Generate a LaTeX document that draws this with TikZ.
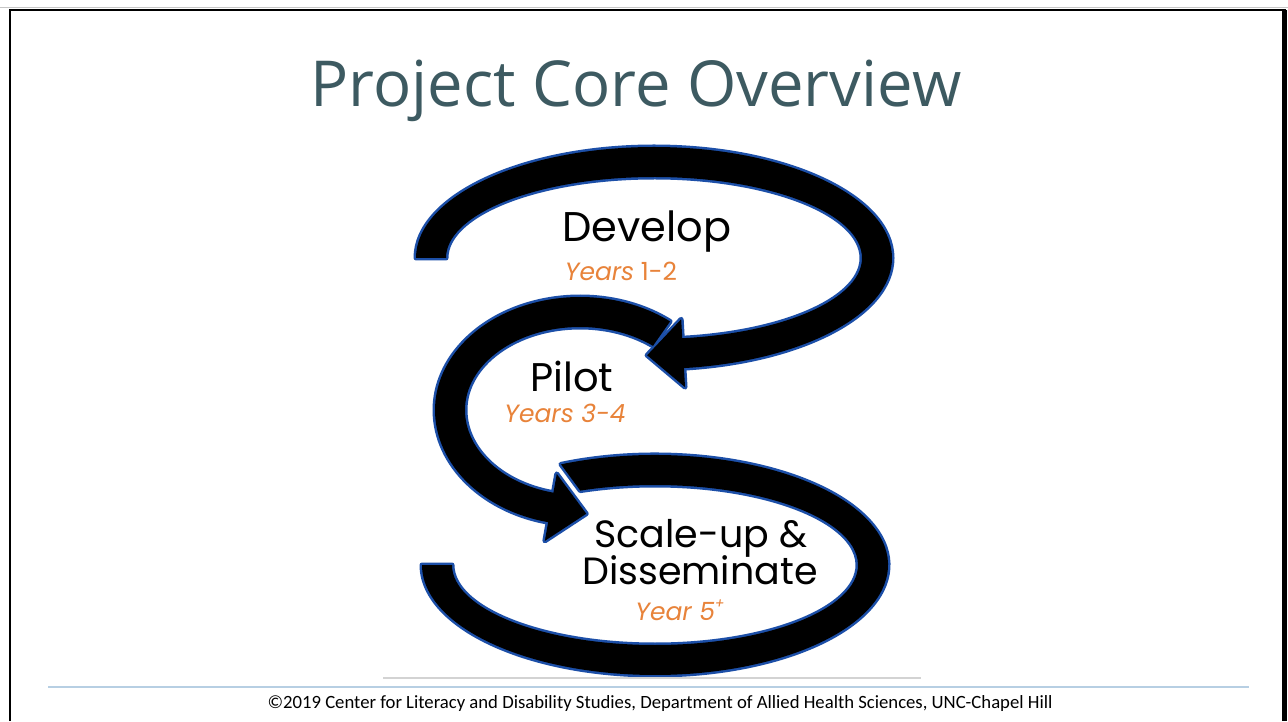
\documentclass[tikz,border=0pt]{standalone}
\usepackage{fontspec}
\setmainfont{Carlito}
\newfontfamily\titlefont{Open Sans}
\newfontfamily\labfont{Poppins}
\usetikzlibrary{calc}
\definecolor{titlecol}{HTML}{3D5A61}
\definecolor{yearcol}{HTML}{E8833A}
\definecolor{edgeblue}{HTML}{1C4FA8}
\definecolor{footline}{HTML}{B7CFE3}
\definecolor{rulegray}{HTML}{D3D3D3}

% outline pass and fill pass share the same geometry
\tikzset{
  bandedge/.style={draw=edgeblue, line width=5pt, line join=round},
  bandfill/.style={fill=black},
  stagelabel/.style={font=\labfont\fontsize{40}{44}\selectfont, anchor=base},
  yearlabel/.style={font=\labfont\fontsize{25}{28}\selectfont, text=yearcol, anchor=base},
}

% Develop loop (centre 654,463)
\newcommand\shDevBand[1]{%
  \path[#1] (654,463) ++(180:238 and 111)
    arc[start angle=180, end angle=-84.5, x radius=238, y radius=111]
    -- ($(654,463)+(-84.5:208 and 81)$)
    arc[start angle=-84.5, end angle=180, x radius=208, y radius=81] -- cycle;}
\newcommand\shDevHead[1]{%
  \begin{scope}[shift={(683.1,367.8)}, rotate=183.24]
    \path[#1] (0,34) -- (36,0) -- (0,-34) -- cycle;
  \end{scope}}
% Pilot loop (centre 580,311)
\newcommand\shPilBand[1]{%
  \path[#1] (580,311) ++(51.6:145 and 113)
    arc[start angle=51.6, end angle=180, x radius=145, y radius=113]
    arc[start angle=180, end angle=259, x radius=145, y radius=115]
    -- ($(580,311)+(259:115 and 85)$)
    arc[start angle=259, end angle=180, x radius=115, y radius=85]
    arc[start angle=180, end angle=50.6, x radius=115, y radius=83] -- cycle;}
\newcommand\shPilHead[1]{%
  \begin{scope}[shift={(550.8,213.6)}, rotate=-10.1]
    \path[#1] (0,34) -- (36,0) -- (0,-34) -- cycle;
  \end{scope}}
% Scale-up loop (centre 655,156)
\newcommand\shScaBand[1]{%
  \path[#1] (655,156) ++(113.8:233 and 110)
    arc[start angle=113.8, end angle=-180, x radius=233, y radius=110]
    -- ($(655,156)+(-180:203 and 80)$)
    arc[start angle=-180, end angle=111.6, x radius=203, y radius=80] -- cycle;}

\begin{document}
\begin{tikzpicture}[x=1pt, y=1pt]
  \useasboundingbox (0,0) rectangle (1288,721);
  \fill[white] (0,0) rectangle (1288,721);

  % slide frame
  \draw[gray!45, line width=1.5pt] (0,713.7) -- (1288,713.7);
  \draw[black, line width=2.2pt] (10,0) -- (10,711) -- (1284.5,711) -- (1284.5,0);
  \draw[black, line width=4.5pt] (1284.5,0) -- (1284.5,711);

  % title
  \node[font=\titlefont\fontsize{63.4}{70}\selectfont, text=titlecol, anchor=base]
    (title) at (636,614) {Project Core Overview};

  % loops: blue edges first, black fills on top
  \shDevBand{bandedge} \shDevHead{bandedge}
  \shPilBand{bandedge} \shPilHead{bandedge}
  \shScaBand{bandedge}
  \shDevBand{bandfill} \shDevHead{bandfill}
  \shPilBand{bandfill} \shPilHead{bandfill}
  \shScaBand{bandfill}

  % stage labels
  \node[stagelabel, font=\labfont\fontsize{41.5}{44}\selectfont] (develop) at (647,479) {Develop};
  \node[yearlabel] (y12) at (621,440) {\itshape Years\upshape\ 1-2};
  \node[stagelabel] (pilot) at (572,329) {Pilot};
  \node[yearlabel] (y34) at (565,298) {\itshape Years 3-4};
  \node[stagelabel, font=\labfont\fontsize{38}{44}\selectfont] (scale) at (701,174) {Scale-up \&};
  \node[stagelabel, font=\labfont\fontsize{38}{44}\selectfont] (dissem) at (700,137) {Disseminate};
  \node[yearlabel] (y5) at (680,101) {\itshape Year 5\raisebox{.45em}{\fontsize{14}{14}\selectfont +}};

  % footer rules and credit line
  \draw[rulegray, line width=2.5pt] (383,43) -- (921,43);
  \draw[footline, line width=1.5pt] (48,34) -- (1249,34);
  \node[font=\fontsize{18.7}{20}\selectfont, anchor=base] (credit) at (660,13)
    {©2019 Center for Literacy and Disability Studies, Department of Allied Health Sciences, UNC-Chapel Hill};
\end{tikzpicture}
\end{document}
